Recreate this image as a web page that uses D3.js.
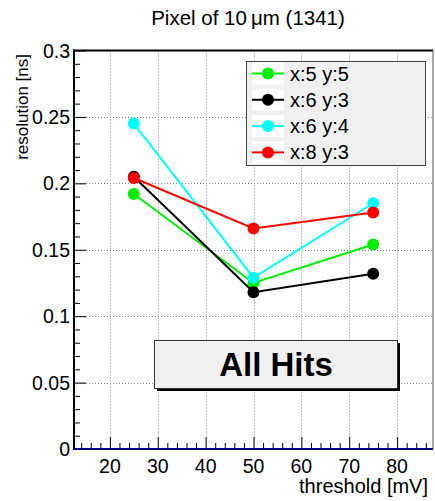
<!DOCTYPE html>
<html>
<head>
<meta charset="utf-8">
<script src="https://cdn.jsdelivr.net/npm/d3@7"></script>
<style>
  html, body { margin: 0; padding: 0; background: #fff; }
  svg { display: block; font-family: "Liberation Sans", Arial, Helvetica, sans-serif; }
</style>
</head>
<body>
<svg id="chart" width="435" height="501"></svg>
<script>
// ---- data ----
const thresholds = [25, 50, 75];
const seriesNames = ["x:5 y:5", "x:6 y:3", "x:6 y:4", "x:8 y:3"];
const seriesColors = ["#00ee00", "#000000", "#00ffff", "#ff0000"];
const valsX5Y5 = [0.192, 0.125, 0.154];
const valsX6Y3 = [0.205, 0.118, 0.132];
const valsX6Y4 = [0.245, 0.129, 0.185];
const valsX8Y3 = [0.204, 0.166, 0.178];
const seriesValues = [valsX5Y5, valsX6Y3, valsX6Y4, valsX8Y3];
const xTicks = [20, 30, 40, 50, 60, 70, 80];
const yTicks = [0, 0.05, 0.1, 0.15, 0.2, 0.25, 0.3];
const yTickLabels = ["0", "0.05", "0.1", "0.15", "0.2", "0.25", "0.3"];
const titleText = "Pixel of 10\u2009\u03bcm (1341)";
const xTitle = "threshold [mV]";
const yTitle = "resolution [ns]";
const boxText = "All Hits";

// ---- layout ----
const L = 74, R = 433, T = 50.5, B = 449;
const svg = d3.select("#chart");
const x = d3.scaleLinear().domain([12.5, 87.5]).range([L, R]);
const y = d3.scaleLinear().domain([0, 0.3]).range([B, T]);

// grid
const grid = svg.append("g").attr("stroke", "#888").attr("stroke-width", 1)
  .attr("stroke-dasharray", "1,2");
grid.selectAll(".gx").data(xTicks).join("line")
  .attr("x1", d => Math.round(x(d)) + 0.5).attr("x2", d => Math.round(x(d)) + 0.5)
  .attr("y1", T).attr("y2", B);
grid.selectAll(".gy").data(yTicks.filter(d => d > 0 && d < 0.3)).join("line")
  .attr("y1", d => Math.round(y(d)) + 0.5).attr("y2", d => Math.round(y(d)) + 0.5)
  .attr("x1", L).attr("x2", R);

// y axis (ticks inside)
const yAxis = d3.axisRight(y).tickValues(d3.range(0, 0.3001, 0.01)).tickSize(6).tickFormat("");
const yg = svg.append("g").attr("transform", `translate(${L},0)`).call(yAxis);
yg.select(".domain").remove();
yg.selectAll(".tick line").attr("stroke", "#000")
  .attr("x2", (d) => (Math.abs(d / 0.05 - Math.round(d / 0.05)) < 1e-6 ? 12 : 6));
// y tick labels
svg.append("g").selectAll("text").data(yTicks).join("text")
  .attr("x", L - 4).attr("y", d => y(d) + 7)
  .attr("text-anchor", "end").attr("font-size", 19.5)
  .text((d, i) => yTickLabels[i]);

// x axis (ticks inside, pointing up)
const xAxis = d3.axisTop(x).tickValues(d3.range(14, 87, 2)).tickSize(6).tickFormat("");
const xg = svg.append("g").attr("transform", `translate(0,${B})`).call(xAxis);
xg.select(".domain").remove();
xg.selectAll(".tick line").attr("stroke", "#000")
  .attr("y2", d => (d % 10 === 0 ? -12 : -6));
svg.append("g").selectAll("text").data(xTicks).join("text")
  .attr("x", d => x(d)).attr("y", 473)
  .attr("text-anchor", "middle").attr("font-size", 19.5)
  .text(d => d);

// frame
svg.append("line").attr("x1", L).attr("x2", L).attr("y1", T - 1).attr("y2", B + 1)
  .attr("stroke", "#000").attr("stroke-width", 2);
svg.append("line").attr("x1", L - 1).attr("x2", R).attr("y1", T).attr("y2", T)
  .attr("stroke", "#000").attr("stroke-width", 2);
svg.append("line").attr("x1", R).attr("x2", R).attr("y1", T).attr("y2", B)
  .attr("stroke", "#555").attr("stroke-width", 1);
svg.append("line").attr("x1", L).attr("x2", R).attr("y1", B).attr("y2", B)
  .attr("stroke", "#000080").attr("stroke-width", 2);

// series
const line = d3.line().x((d, i) => x(thresholds[i])).y(d => y(d));
seriesValues.forEach((vals, s) => {
  const g = svg.append("g");
  g.append("path").datum(vals).attr("d", line)
    .attr("fill", "none").attr("stroke", seriesColors[s]).attr("stroke-width", 2);
  g.selectAll("circle").data(vals).join("circle")
    .attr("cx", (d, i) => x(thresholds[i])).attr("cy", d => y(d)).attr("r", 6)
    .attr("fill", seriesColors[s]);
});

// legend
const lg = svg.append("g");
lg.append("rect").attr("x", 246.5).attr("y", 61.5).attr("width", 179).attr("height", 104)
  .attr("fill", "#f0f0f0").attr("stroke", "#444").attr("stroke-width", 1);
seriesNames.forEach((name, i) => {
  const cy = 73.5 + i * 26.3;
  lg.append("rect").attr("x", 252).attr("y", cy - 11).attr("width", 32).attr("height", 22)
    .attr("fill", "#fff");
  lg.append("line").attr("x1", 252).attr("x2", 284).attr("y1", cy).attr("y2", cy)
    .attr("stroke", seriesColors[i]).attr("stroke-width", 2);
  lg.append("circle").attr("cx", 268).attr("cy", cy).attr("r", 6).attr("fill", seriesColors[i]);
  lg.append("text").attr("x", 290).attr("y", cy + 7).attr("font-size", 20).text(name);
});

// "All Hits" box
svg.append("rect").attr("x", 157).attr("y", 343).attr("width", 243).attr("height", 48).attr("fill", "#000");
svg.append("rect").attr("x", 154.5).attr("y", 340.5).attr("width", 243).attr("height", 48)
  .attr("fill", "#f0f0f0").attr("stroke", "#333").attr("stroke-width", 1);
svg.append("text").attr("x", 276).attr("y", 376).attr("text-anchor", "middle")
  .attr("font-size", 33).attr("font-weight", "bold").text(boxText);

// titles
svg.append("text").attr("x", 248).attr("y", 25).attr("text-anchor", "middle")
  .attr("font-size", 20.5).text(titleText);
svg.append("text").attr("x", 428).attr("y", 493).attr("text-anchor", "end")
  .attr("font-size", 20).text(xTitle);
svg.append("text").attr("transform", "translate(28,54) rotate(-90)")
  .attr("text-anchor", "end").attr("font-size", 17).text(yTitle);
</script>
</body>
</html>
